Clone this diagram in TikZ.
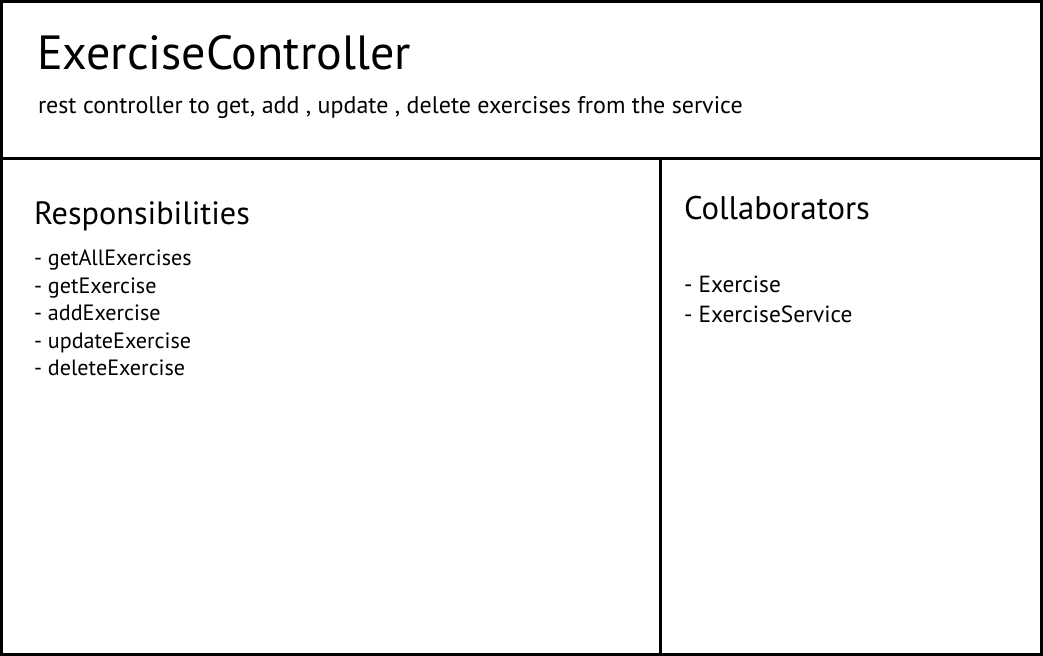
\documentclass[tikz,border=0pt]{standalone}
\usepackage{fontspec}
\setmainfont{PT Sans}
\begin{document}
\begin{tikzpicture}[x=0.75pt,y=-0.75pt,
  frame/.style={line width=2.25pt,black},
  txt/.style={anchor=base west,inner sep=0pt,outer sep=0pt},
  title/.style={txt,font=\fontsize{36}{43}\selectfont},
  sub/.style={txt,font=\fontsize{18}{22}\selectfont},
  head/.style={txt,font=\fontsize{24.2}{29}\selectfont},
  item/.style={txt,font=\fontsize{16.6}{20}\selectfont},
  citem/.style={txt,font=\fontsize{17.5}{21}\selectfont}]
\useasboundingbox (0,0) rectangle (1043,656);
\draw[frame] (1.5,1.5) rectangle (1041.5,654.5);
\coordinate (hl) at (0,159);
\coordinate (hr) at (1043,159);
\coordinate (vt) at (660.5,159);
\coordinate (vb) at (660.5,654.5);
\draw[frame] (hl) -- (hr);
\draw[frame] (vt) -- (vb);
\node[title] (t) at (37,70) {ExerciseController};
\node[sub] (s) at (38,113.5) {rest controller to get, add , update , delete exercises from the service};
\node[head] (r) at (34,224) {Responsibilities};
\node[item] (r1) at (34,265.5) {- getAllExercises};
\node[item] (r2) at (34,293) {- getExercise};
\node[item] (r3) at (34,320.5) {- addExercise};
\node[item] (r4) at (34,348) {- updateExercise};
\node[item] (r5) at (34,375.5) {- deleteExercise};
\node[head,font=\fontsize{24.5}{29}\selectfont] (c) at (684,219.5) {Collaborators};
\node[citem] (c1) at (684,292) {- Exercise};
\node[citem] (c2) at (684,322) {- ExerciseService};
\end{tikzpicture}
\end{document}
